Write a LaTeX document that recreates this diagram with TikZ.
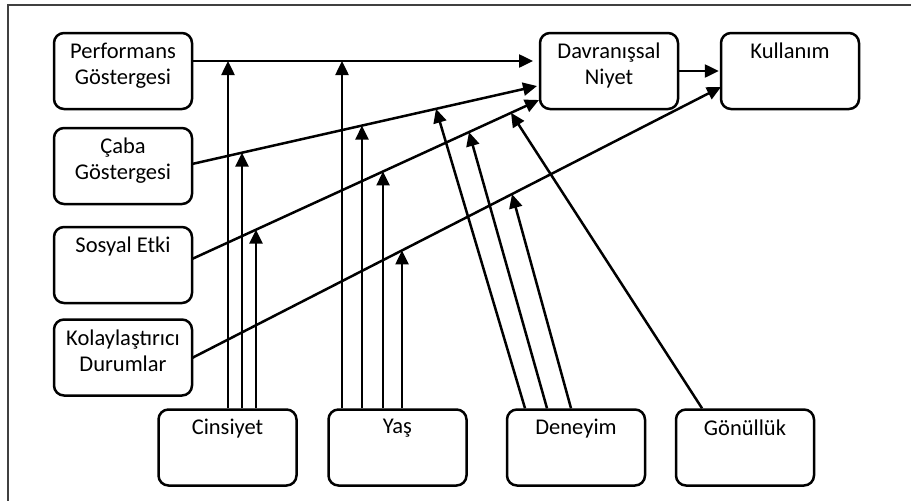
\documentclass[tikz,border=0pt]{standalone}
\usepackage{fontspec}
\setmainfont{Carlito}
\usetikzlibrary{arrows.meta,calc}

\tikzset{
  box/.style={draw, line width=2.5pt, rounded corners=10pt, inner xsep=3pt, inner ysep=0pt,
              font=\fontsize{22.5}{26}\selectfont},
  arr/.style={line width=2.5pt, -{Triangle[length=14pt,width=13pt]}},
  frame/.style={draw=black!75, line width=1.6pt}
}
% box content: fixed size, text set at the top
\newcommand{\boxtext}[1]{\parbox[c][76pt][t]{132pt}{\centering\vspace{10pt}#1}}

\begin{document}
\begin{tikzpicture}[x=1pt,y=-1pt]
\useasboundingbox (0,0) rectangle (911,501);
\draw[frame] (8,501) -- (8,5) -- (911,5);

% determinants
\node[box] (pg) at (123,71)    {\boxtext{Performans\\Göstergesi}};
\node[box] (cg) at (123,166)   {\boxtext{Çaba\\Göstergesi}};
\node[box] (se) at (123,265)   {\boxtext{Sosyal Etki}};
\node[box] (kd) at (123,357.5) {\boxtext{Kolaylaştırıcı\\Durumlar}};
% outcomes
\node[box] (dn) at (609,71)    {\boxtext{Davranışsal\\Niyet}};
\node[box] (ku) at (790,71)    {\boxtext{Kullanım}};
% moderators
\node[box] (cin) at (227.5,447.5) {\boxtext{Cinsiyet}};
\node[box] (yas) at (397.5,447.5) {\boxtext{Yaş}};
\node[box] (den) at (576,447.5)   {\boxtext{Deneyim}};
\node[box] (gon) at (745,447.5)   {\boxtext{Gönüllük}};

% main paths
\coordinate (pgS) at (192,61);  \coordinate (pgE) at (533,61);
\coordinate (cgS) at (192,164); \coordinate (cgE) at (537,86);
\coordinate (seS) at (192,259); \coordinate (seE) at (539,100);
\coordinate (kdS) at (192,358); \coordinate (kdE) at (721,87);

\draw[arr] (pgS) -- (pgE);
\draw[arr] (cgS) -- (cgE);
\draw[arr] (seS) -- (seE);
\draw[arr] (kdS) -- (kdE);
\draw[arr,shorten >=1pt] (dn.east) -- (ku.west);

% moderation points on the main paths
\coordinate (c1) at (intersection of pgS--pgE and 228,0--228,500);
\coordinate (c2) at (intersection of cgS--cgE and 242,0--242,500);
\coordinate (c3) at (intersection of seS--seE and 256,0--256,500);
\coordinate (y1) at (intersection of pgS--pgE and 342,0--342,500);
\coordinate (y2) at (intersection of cgS--cgE and 362,0--362,500);
\coordinate (y3) at (intersection of seS--seE and 383,0--383,500);
\coordinate (y4) at (intersection of kdS--kdE and 402,0--402,500);
\coordinate (d1) at (intersection of cgS--cgE and 436,0--436,500);
\coordinate (d2) at (intersection of seS--seE and 469,0--469,500);
\coordinate (d3) at (intersection of kdS--kdE and 512,0--512,500);
\coordinate (g1) at (intersection of seS--seE and 511,0--511,500);

% gender
\draw[arr] (cin.north -| c1) -- (c1);
\draw[arr] (cin.north -| c2) -- (c2);
\draw[arr] (cin.north -| c3) -- (c3);
% age
\draw[arr] (yas.north -| y1) -- (y1);
\draw[arr] (yas.north -| y2) -- (y2);
\draw[arr] (yas.north -| y3) -- (y3);
\draw[arr] (yas.north -| y4) -- (y4);
% experience
\draw[arr] ($(den.north)+(-51,0)$) -- (d1);
\draw[arr] ($(den.north)+(-29,0)$) -- (d2);
\draw[arr] ($(den.north)+(-5,0)$)  -- (d3);
% voluntariness
\draw[arr] ($(gon.north)+(-43,0)$) -- (g1);
\end{tikzpicture}
\end{document}
